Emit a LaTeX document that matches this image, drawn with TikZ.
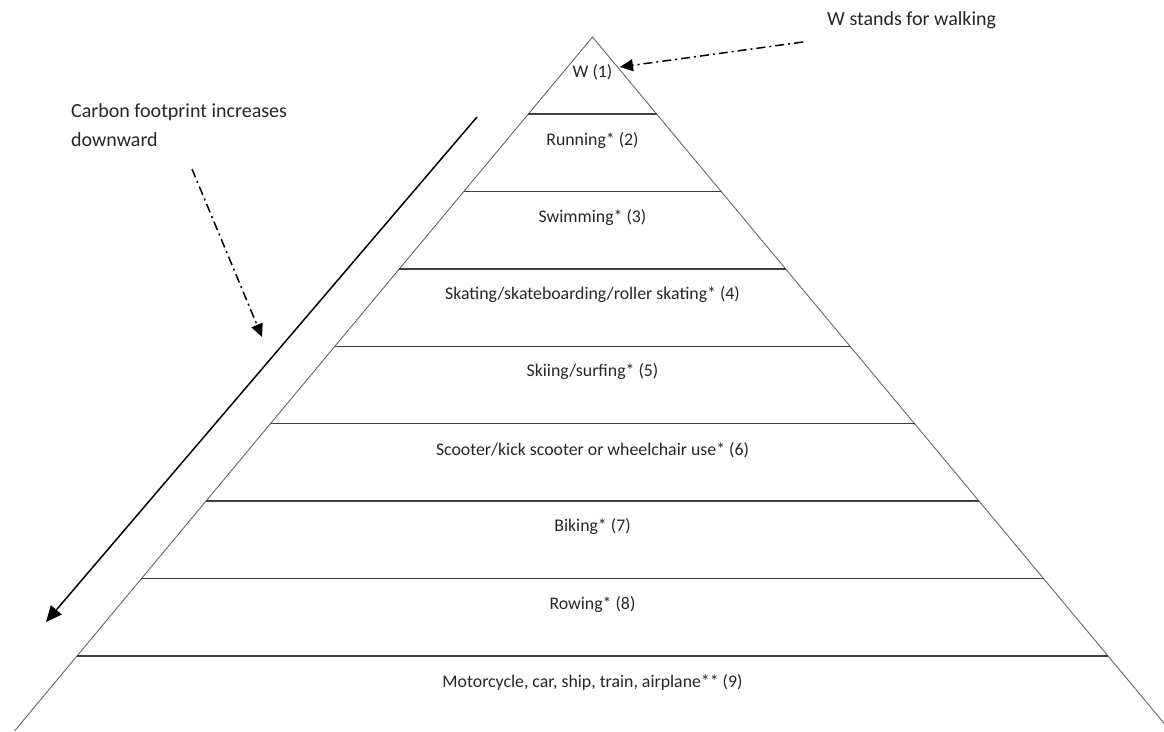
\documentclass[tikz,border=0pt]{standalone}
\usepackage{fontspec}
\setmainfont{Carlito}
\usetikzlibrary{calc,arrows.meta}
\begin{document}
\begin{tikzpicture}[x=1pt,y=-1pt,
  edge/.style={draw=black!60,line width=0.9pt},
  tier/.style={draw=black!75,line width=1.5pt},
  lbl/.style={font=\fontsize{17.8}{21}\selectfont,text=black!85,inner sep=0pt},
  note/.style={font=\fontsize{20}{24}\selectfont,text=black!85,inner sep=0pt},
  dashdot/.style={line width=1.5pt,dash pattern=on 9pt off 4pt on 2pt off 4pt,
    -{Triangle[length=13pt,width=12pt]}},
  solidarrow/.style={line width=1.5pt,-{Triangle[length=16pt,width=14pt]}}]
\useasboundingbox (0,0) rectangle (1164,731);
\begin{scope}
\clip (0,0) rectangle (1164,731);
\coordinate (apex) at (592.5,37);
\coordinate (BL) at (14.5,731);
\coordinate (BR) at (1170.5,731);
\draw[edge] (BL) -- (apex) -- (BR);
\foreach \y [count=\i] in {114,191.4,268.9,346.3,423.7,501.2,578.6,656}{
  \pgfmathsetmacro{\t}{(\y-37)/694}
  \coordinate (L\i) at ($(apex)!\t!(BL)$);
  \coordinate (R\i) at ($(apex)!\t!(BR)$);
  \draw[tier] (L\i) -- (R\i);
}
\end{scope}
\node[lbl] (t1) at (592.5,72) {W (1)};
\node[lbl] (t2) at (592.5,141) {Running* (2)};
\node[lbl] (t3) at (592.5,218) {Swimming* (3)};
\node[lbl] (t4) at (592.5,295) {Skating/skateboarding/roller skating* (4)};
\node[lbl] (t5) at (592.5,372) {Skiing/surfing* (5)};
\node[lbl] (t6) at (592.5,450) {Scooter/kick scooter or wheelchair use* (6)};
\node[lbl] (t7) at (592.5,527) {Biking* (7)};
\node[lbl] (t8) at (592.5,605) {Rowing* (8)};
\node[lbl] (t9) at (592.5,682) {Motorcycle, car, ship, train, airplane** (9)};
\node[note,anchor=base west] (wnote) at (827,25) {W stands for walking};
\node[note,anchor=base west] (cnote1) at (71,117) {Carbon footprint increases};
\node[note,anchor=base west] (cnote2) at (71,146) {downward};
\coordinate (wa) at (803,42);
\coordinate (wb) at (620,67);
\draw[dashdot] (wa) -- (wb);
\coordinate (ca) at (192,169);
\coordinate (cb) at (262,337);
\draw[dashdot] (ca) -- (cb);
\coordinate (sa) at (477,117);
\coordinate (sb) at (46,622);
\draw[solidarrow] (sa) -- (sb);
\end{tikzpicture}
\end{document}
